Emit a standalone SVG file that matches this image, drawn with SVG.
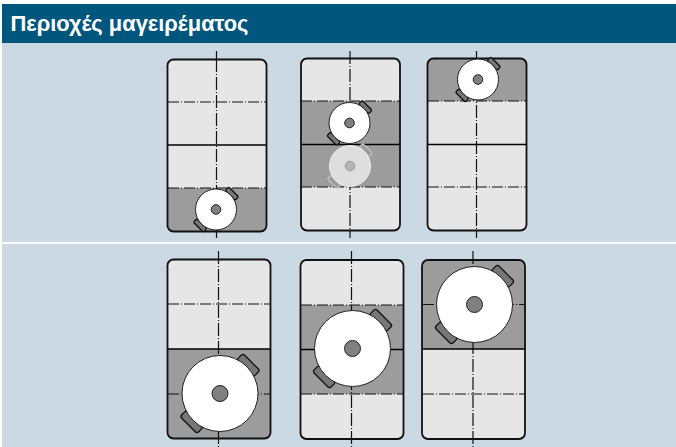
<svg xmlns="http://www.w3.org/2000/svg" width="676" height="447" viewBox="0 0 676 447">
<style>
.p{fill:#e6e6e6}
.g{fill:#9c9c9c}
.o{fill:none;stroke:#111;stroke-width:1.8}
.s{fill:none;stroke:#000;stroke-width:1.6}
.dh{fill:none;stroke:#111;stroke-width:1.2;stroke-dasharray:11 2 1 2}
.dv{fill:none;stroke:#111;stroke-width:1.2;stroke-dasharray:13 2 1 2}
.h{fill:#777;stroke:#111;stroke-width:1.3}
.c{fill:#fff;stroke:#222;stroke-width:1}
.k{fill:#808080;stroke:#222;stroke-width:1}
.gh{fill:none;stroke:#c8c8c8;stroke-width:1}
.gc{fill:#dedede;stroke:#ececec;stroke-width:1}
.gk{fill:#b4b4b4;stroke:#9a9a9a;stroke-width:1}
</style>
<defs>
<g id="small">
<rect class="h" x="-7" y="-25" width="14" height="5" rx="1.500" transform="rotate(45)"/>
<rect class="h" x="-7" y="20" width="14" height="5" rx="1.500" transform="rotate(45)"/>
<circle class="c" r="20.500"/>
<circle class="k" r="4.800"/>
</g>
<g id="large">
<rect class="h" x="-12" y="-44.500" width="24" height="9" rx="2.500" transform="rotate(45)"/>
<rect class="h" x="-12" y="35.500" width="24" height="9" rx="2.500" transform="rotate(45)"/>
<circle class="c" r="38"/>
<circle class="k" r="8"/>
</g>
</defs>
<rect width="676" height="447" fill="#fff"/>
<rect x="2" y="43" width="674" height="404" fill="#cbd9e2"/>
<rect x="2" y="4" width="674" height="39" fill="#00567c"/>
<rect x="2" y="242" width="674" height="2" fill="#fbfcfd"/>
<text x="10.500" y="31" font-family="'Liberation Sans',Arial,sans-serif" font-weight="700" font-size="22" textLength="238" lengthAdjust="spacingAndGlyphs" fill="#fff">Περιοχές μαγειρέματος</text>

<g id="connectors">
<path class="dv" d="M216.500 51V238"/>
</g>

<g id="panel-1">
<rect class="p" x="167.500" y="59.500" width="99" height="172" rx="6"/>
<path class="g" d="M167.500 188H266.500V225.500a6 6 0 0 1-6 6H173.500a6 6 0 0 1-6-6Z"/>
<path class="dh" d="M168 102H266M168 188H266"/>
<path class="dv" d="M216.500 59V231"/>
<path class="s" d="M168 145H266"/>
<rect class="o" x="167.500" y="59.500" width="99" height="172" rx="6"/>
<use href="#small" x="216" y="209.500"/>
</g>

<g id="panel-2">
<rect class="p" x="301" y="58.500" width="99" height="172" rx="6"/>
<rect class="g" x="301" y="101" width="99" height="86"/>
<path class="dv" d="M350 51V238"/>
<path class="dh" d="M301 101H400M301 187H400"/>
<path class="s" d="M301 144.500H400"/>
<rect class="o" x="301" y="58.500" width="99" height="172" rx="6"/>
<use href="#small" x="349.500" y="123"/>
<g transform="translate(350 166)">
<rect class="g" x="-7" y="-25" width="14" height="6" transform="rotate(45)"/>
<rect class="g" x="-7" y="19" width="14" height="6" transform="rotate(45)"/>
<rect class="gh" x="-7" y="-25" width="14" height="5" rx="1.500" transform="rotate(45)"/>
<rect class="gh" x="-7" y="20" width="14" height="5" rx="1.500" transform="rotate(45)"/>
<circle class="gc" r="20.500"/>
<circle class="gk" r="4.800"/>
</g>
</g>

<g id="panel-3">
<rect class="p" x="427.500" y="58.500" width="99" height="172" rx="6"/>
<path class="g" d="M427.500 101V64.500a6 6 0 0 1 6-6H520.500a6 6 0 0 1 6 6V101Z"/>
<path class="dv" d="M476.500 51V238"/>
<path class="dh" d="M428 101H526M428 187H526"/>
<path class="s" d="M428 144.500H526"/>
<rect class="o" x="427.500" y="58.500" width="99" height="172" rx="6"/>
<use href="#small" x="478" y="79.500"/>
</g>

<g id="panel-4">
<rect class="p" x="167.500" y="259.500" width="103" height="179" rx="6"/>
<path class="g" d="M167.500 349H270.500V432.500a6 6 0 0 1-6 6H173.500a6 6 0 0 1-6-6Z"/>
<path class="dv" d="M218.500 251V447"/>
<path class="dh" d="M168 304H270M168 394H270"/>
<path class="s" d="M168 349H270"/>
<rect class="o" x="167.500" y="259.500" width="103" height="179" rx="6"/>
<use href="#large" x="220" y="393.500"/>
</g>

<g id="panel-5">
<rect class="p" x="300.500" y="260" width="103" height="179" rx="6"/>
<rect class="g" x="300.500" y="305" width="103" height="89"/>
<path class="dv" d="M351.500 251V447"/>
<path class="dh" d="M301 305H403M301 394H403"/>
<path class="s" d="M301 349.500H403"/>
<rect class="o" x="300.500" y="260" width="103" height="179" rx="6"/>
<use href="#large" x="352.500" y="348.500"/>
</g>

<g id="panel-6">
<rect class="p" x="422" y="260" width="103" height="179" rx="6"/>
<path class="g" d="M422 349V266a6 6 0 0 1 6-6H519a6 6 0 0 1 6 6V349Z"/>
<path class="dv" d="M473 251V447"/>
<path class="dh" d="M423 304.500H525M423 394H525"/>
<path class="s" d="M423 349H525"/>
<rect class="o" x="422" y="260" width="103" height="179" rx="6"/>
<use href="#large" x="474.500" y="304.500"/>
</g>
</svg>
